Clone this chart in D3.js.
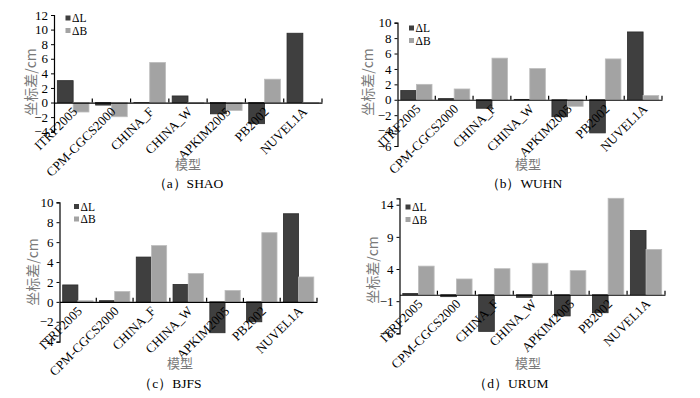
<!DOCTYPE html>
<html><head><meta charset="utf-8">
<script src="https://cdn.jsdelivr.net/npm/d3@7"></script>
<style>
html,body{margin:0;padding:0;background:#fff;}
svg{display:block;}
</style></head>
<body><svg id="c" width="700" height="398"></svg>
<script>
const models = ["ITRF2005","CPM-CGCS2000","CHINA_F","CHINA_W","APKIM2005","PB2002","NUVEL1A"];
const seriesNames = ["ΔL","ΔB"];
const shaoL = [3.0,-0.35,0,0.9,-1.55,-2.9,9.5];
const shaoB = [-1.3,-1.95,5.5,-0.1,-1.1,3.2,-0.1];
const wuhnL = [1.2,0.15,-1.1,0.05,-2.2,-4.3,8.8];
const wuhnB = [2.0,1.4,5.4,4.05,-0.85,5.3,0.55];
const bjfsL = [1.7,0.12,4.5,1.75,-3.1,-2.0,8.85];
const bjfsB = [0.12,1.05,5.65,2.85,1.15,6.95,2.5];
const urumL = [0.2,-0.3,-5.7,-0.4,-3.3,-2.8,10.0];
const urumB = [4.45,2.45,4.05,4.9,3.75,15.0,7.05];
const ticksA = [-4,-2,0,2,4,6,8,10,12];
const ticksB = [-6,-4,-2,0,2,4,6,8,10];
const ticksC = [-4,-2,0,2,4,6,8,10];
const ticksD = [-6,-1,4,9,14];
const captions = ["（a）SHAO","（b）WUHN","（c）BJFS","（d）URUM"];
const yTitle = "坐标差/cm";
const xTitle = "模型";

const serif = "'Liberation Serif','Times New Roman',serif";
const cjk = "'Noto Sans CJK SC','Liberation Serif',serif";
const colors = ["#3f3f3f","#a3a3a3"];
const strokes = ["#2a2a2a","#bdbdbd"];

const svg = d3.select("#c");
svg.append("rect").attr("width",700).attr("height",398).attr("fill","#fff");

const panels = [
  {L:shaoL,B:shaoB,ticks:ticksA,dom:[-4,12],x0:54,x1:322,yT:15,yB:131.7,leg:[68,18],yt:[30,82],xt:[188,163],cap:[188,183],caption:captions[0]},
  {L:wuhnL,B:wuhnB,ticks:ticksB,dom:[-6,10],x0:397.5,x1:662,yT:22.7,yB:146,leg:[411.5,28],yt:[367,82],xt:[528,163],cap:[524,183],caption:captions[1]},
  {L:bjfsL,B:bjfsB,ticks:ticksC,dom:[-4,10],x0:59.5,x1:317,yT:202.3,yB:341.7,leg:[76.5,206.5],yt:[32,272],xt:[180,362],cap:[170,383],caption:captions[2]},
  {L:urumL,B:urumB,ticks:ticksD,dom:[-6,15],x0:399.5,x1:665,yT:198.3,yB:333.3,leg:[408,207],yt:[372,270],xt:[528,362],cap:[511,383],caption:captions[3]}
];

panels.forEach(p=>{
  const g = svg.append("g");
  const x = d3.scaleBand().domain(models).range([p.x0,p.x1]).paddingInner(0).paddingOuter(0);
  const xs = d3.scaleBand().domain(seriesNames).range([0,x.bandwidth()]).paddingInner(0).paddingOuter(0.21);
  const y = d3.scaleLinear().domain(p.dom).range([p.yB,p.yT]);
  const y0 = y(0);

  const data = models.map((m,i)=>({m, vals:[p.L[i],p.B[i]]}));
  const grp = g.selectAll("g.cat").data(data).join("g").attr("class","cat").attr("transform",d=>`translate(${x(d.m)},0)`);
  grp.selectAll("rect").data(d=>d.vals.map((v,k)=>({v,k}))).join("rect")
    .attr("x",d=>xs(seriesNames[d.k]))
    .attr("width",xs.bandwidth())
    .attr("y",d=>Math.min(y(d.v),y0))
    .attr("height",d=>Math.max(Math.abs(y(d.v)-y0),0.01))
    .attr("fill",d=>colors[d.k])
    .attr("stroke",d=>strokes[d.k]).attr("stroke-width",0.8);

  const ya = d3.axisLeft(y).tickValues(p.ticks).tickSize(3).tickPadding(3).tickFormat(d=>d<0?"−"+Math.abs(d):d);
  const yg = g.append("g").attr("transform",`translate(${p.x0},0)`).call(ya);
  yg.attr("font-family",serif).attr("font-size",13);
  yg.select(".domain").attr("stroke","#000").attr("stroke-width",1.2);
  yg.selectAll(".tick line").attr("stroke","#000");
  yg.selectAll("text").attr("fill","#000");

  const xa = d3.axisBottom(x).tickSize(0).tickFormat("");
  const xg = g.append("g").attr("transform",`translate(0,${y0})`).call(xa);
  xg.select(".domain").attr("stroke","#000").attr("stroke-width",1.2);
  const bounds = models.map(m=>x(m)+x.bandwidth());
  g.selectAll("line.bt").data(bounds).join("line").attr("class","bt")
    .attr("x1",d=>d).attr("x2",d=>d).attr("y1",y0).attr("y2",y0-4)
    .attr("stroke","#000").attr("stroke-width",1.2);

  g.selectAll("text.cl").data(models).join("text").attr("class","cl")
    .attr("transform",d=>`translate(${x(d)+x.bandwidth()/2+5},${y0+10}) rotate(-45)`)
    .attr("text-anchor","end").attr("font-family",serif).attr("font-size",13).attr("fill","#000").text(d=>d);

  seriesNames.forEach((s,k)=>{
    const ly = p.leg[1] + k*12.5;
    g.append("rect").attr("x",p.leg[0]-2.5).attr("y",ly-2.5).attr("width",5).attr("height",5).attr("fill",colors[k]);
    g.append("text").attr("x",p.leg[0]+4).attr("y",ly+4).attr("font-family",serif).attr("font-size",11.5).attr("fill","#000").text(s);
  });

  g.append("text").attr("transform",`translate(${p.yt[0]},${p.yt[1]}) rotate(-90)`)
    .attr("text-anchor","middle").attr("dominant-baseline","central").attr("font-family",cjk).attr("font-size",14).attr("fill","#7a7a7a")
    .text(yTitle);
  g.append("text").attr("x",p.xt[0]).attr("y",p.xt[1]).attr("text-anchor","middle").attr("dominant-baseline","central")
    .attr("font-family",cjk).attr("font-size",13).attr("fill","#7a7a7a").text(xTitle);
  g.append("text").attr("x",p.cap[0]).attr("y",p.cap[1]).attr("text-anchor","middle").attr("dominant-baseline","central")
    .attr("font-family",serif).attr("font-size",13.5).attr("fill","#000").text(p.caption);
});
</script></body></html>
